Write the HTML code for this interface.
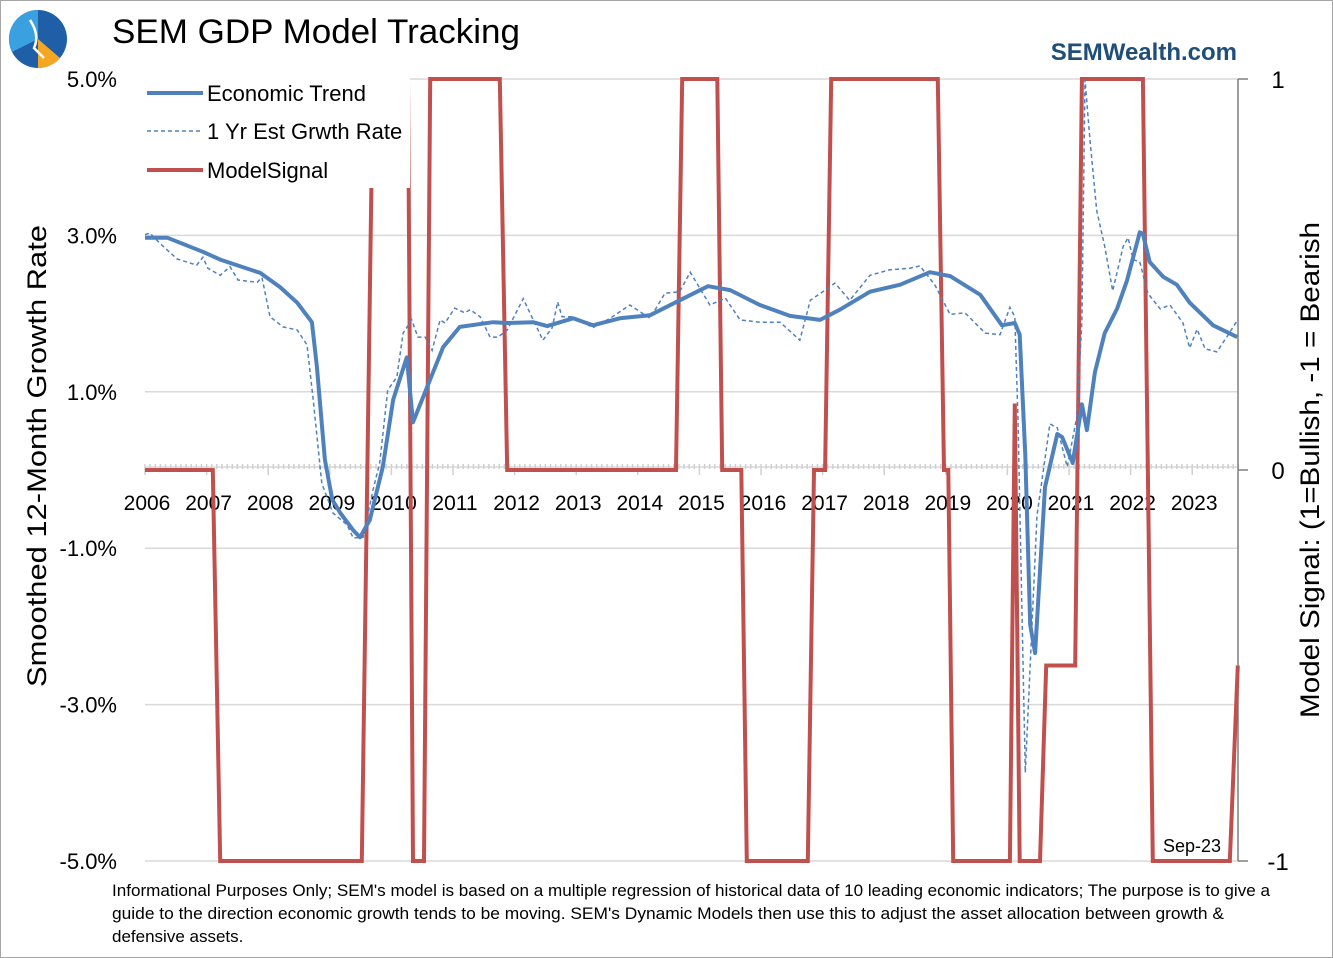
<!DOCTYPE html>
<html><head><meta charset="utf-8"><style>
body{margin:0;background:#fff;}
svg{display:block;font-family:"Liberation Sans",sans-serif;}
</style></head><body>
<svg id="chart" width="1333" height="958" viewBox="0 0 1333 958" xmlns="http://www.w3.org/2000/svg">
<rect x="0.5" y="0.5" width="1332" height="957" fill="#fff" stroke="#a6a6a6"/>
<g>
<circle cx="38" cy="39" r="29" fill="#1f5fa8"/>
<path d="M38 39 L38 10 A29 29 0 0 0 12 52 Z" fill="#3aa0e0"/>
<path d="M38 39 L60 58 A29 29 0 0 1 38 68 Z" fill="#f5a623"/>
<path d="M30 20 Q40 35 34 48 L44 58" stroke="#fff" stroke-width="2.5" fill="none"/>
</g>
<text x="112" y="43" font-size="34" textLength="408" lengthAdjust="spacingAndGlyphs" fill="#000">SEM GDP Model Tracking</text>
<text x="1237" y="60" font-size="24" font-weight="bold" fill="#1f4e79" text-anchor="end">SEMWealth.com</text>
<g id="grid"></g>
<g id="axes"></g>
<g id="series"></g>
<g id="legend"></g>
<text transform="translate(46,456) rotate(-90)" font-size="27" text-anchor="middle" textLength="462" lengthAdjust="spacingAndGlyphs">Smoothed 12-Month Growth Rate</text>
<text transform="translate(1319,470) rotate(-90)" font-size="27" text-anchor="middle" textLength="496" lengthAdjust="spacingAndGlyphs">Model Signal: (1=Bullish, -1 = Bearish</text>
<text x="1192" y="852" font-size="18" text-anchor="middle">Sep-23</text>
<g font-size="17" fill="#000">
<text x="112" y="896" textLength="1158" lengthAdjust="spacingAndGlyphs">Informational Purposes Only; SEM's model is based on a multiple regression of historical data of 10 leading economic indicators; The purpose is to give a</text>
<text x="112" y="919" textLength="1112" lengthAdjust="spacingAndGlyphs">guide to the direction economic growth tends to be moving. SEM's Dynamic Models then use this to adjust the asset allocation between growth &amp;</text>
<text x="112" y="942">defensive assets.</text>
</g>
</svg>
<script>
const yearLabels=["2006","2007","2008","2009","2010","2011","2012","2013","2014","2015","2016","2017","2018","2019","2020","2021","2022","2023"];
const leftTicks=[5,3,1,-1,-3,-5];
const leftTickLabels=["5.0%","3.0%","1.0%","-1.0%","-3.0%","-5.0%"];
const rightTicks=[1,0,-1];
const trendDates=[2006.0,2006.36,2006.94,2007.22,2007.87,2008.19,2008.47,2008.71,2008.79,2008.92,2009.04,2009.17,2009.38,2009.49,2009.65,2009.86,2010.03,2010.25,2010.35,2010.58,2010.84,2011.11,2011.65,2011.88,2012.30,2012.53,2012.95,2013.27,2013.71,2014.20,2014.68,2015.14,2015.50,2015.98,2016.47,2016.96,2017.28,2017.77,2018.26,2018.74,2019.07,2019.56,2019.91,2020.12,2020.20,2020.29,2020.37,2020.45,2020.61,2020.81,2020.89,2021.06,2021.21,2021.29,2021.42,2021.58,2021.78,2021.94,2022.15,2022.20,2022.31,2022.53,2022.75,2022.96,2023.34,2023.73];
const trendValues=[2.97,2.97,2.79,2.69,2.52,2.34,2.14,1.89,1.32,0.13,-0.38,-0.55,-0.77,-0.86,-0.64,0.04,0.90,1.44,0.61,1.06,1.57,1.83,1.89,1.88,1.89,1.84,1.94,1.85,1.94,1.98,2.17,2.35,2.30,2.11,1.97,1.92,2.05,2.28,2.37,2.53,2.48,2.24,1.85,1.88,1.73,0.19,-1.98,-2.34,-0.22,0.46,0.42,0.09,0.84,0.51,1.25,1.75,2.06,2.42,3.04,3.02,2.66,2.47,2.37,2.14,1.85,1.70];
const estDates=[2006.0,2006.08,2006.24,2006.52,2006.84,2006.94,2007.02,2007.22,2007.38,2007.51,2007.82,2007.90,2008.03,2008.24,2008.47,2008.63,2008.73,2008.87,2009.05,2009.28,2009.38,2009.54,2009.70,2009.81,2009.94,2010.09,2010.19,2010.33,2010.43,2010.55,2010.66,2010.79,2010.87,2011.03,2011.19,2011.28,2011.44,2011.60,2011.73,2011.88,2012.14,2012.46,2012.61,2012.70,2012.77,2012.95,2013.27,2013.55,2013.87,2014.20,2014.44,2014.68,2014.85,2015.17,2015.42,2015.66,2015.98,2016.31,2016.63,2016.80,2017.04,2017.20,2017.44,2017.77,2018.09,2018.42,2018.58,2018.82,2019.07,2019.31,2019.64,2019.88,2020.04,2020.12,2020.17,2020.29,2020.48,2020.69,2020.81,2020.97,2021.13,2021.21,2021.26,2021.34,2021.45,2021.58,2021.71,2021.88,2021.96,2022.04,2022.15,2022.28,2022.48,2022.64,2022.85,2022.96,2023.08,2023.21,2023.40,2023.56,2023.73];
const estValues=[3.01,3.03,2.90,2.70,2.62,2.72,2.58,2.49,2.60,2.43,2.40,2.46,1.96,1.83,1.79,1.60,0.90,-0.17,-0.55,-0.70,-0.87,-0.86,-0.26,0.09,1.02,1.19,1.75,1.92,1.70,1.70,1.53,1.92,1.88,2.07,2.01,2.05,1.96,1.70,1.70,1.79,2.19,1.66,1.82,2.15,1.96,1.96,1.82,1.94,2.11,1.94,2.26,2.28,2.53,2.11,2.20,1.92,1.89,1.89,1.66,2.17,2.30,2.39,2.17,2.49,2.56,2.58,2.61,2.37,1.99,2.01,1.75,1.73,2.08,1.96,0.69,-3.87,-0.58,0.59,0.54,0.04,0.69,1.91,4.99,4.23,3.32,2.86,2.29,2.86,2.97,2.69,2.66,2.26,2.06,2.11,1.88,1.56,1.80,1.55,1.51,1.70,1.91];
const signalDates=[2006.0,2007.10,2007.22,2009.52,2009.70,2010.27,2010.35,2010.53,2010.63,2011.76,2011.88,2014.62,2014.72,2015.29,2015.37,2015.68,2015.77,2016.76,2016.86,2017.04,2017.14,2018.87,2018.97,2019.04,2019.12,2020.04,2020.12,2020.20,2020.53,2020.63,2021.10,2021.21,2022.20,2022.36,2023.61,2023.74];
const signalValues=[0,0,-1,-1,1,1,-1,-1,1,1,0,0,1,1,0,0,-1,-1,0,0,1,1,0,0,-1,-1,0.17,-1,-1,-0.5,-0.5,1,1,-1,-1,-0.5];

const NS="http://www.w3.org/2000/svg";
const PL=145,PR=1238,PT=79,PB=861;
const xS=y=>PL+(y-2006)*61.6;
const yL=v=>470-(v)*78.2;
const yR=v=>470-v*391;
function mk(tag,attrs,parent){const e=document.createElementNS(NS,tag);for(const k in attrs)e.setAttribute(k,attrs[k]);parent.appendChild(e);return e;}
const grid=document.getElementById('grid'),axes=document.getElementById('axes'),series=document.getElementById('series'),legend=document.getElementById('legend');
leftTicks.forEach((v,i)=>{
  const l=mk('line',{x1:PL,x2:PR,y1:yL(v),y2:yL(v),stroke:'#d9d9d9','stroke-width':1.5},grid);
  
  
  const t=mk('text',{x:117,y:yL(v)+8,'font-size':22,'text-anchor':'end'},axes);
  t.textContent=leftTickLabels[i];
  
  
});
const xa=mk('line',{x1:PL,x2:PR,y1:467,y2:467,stroke:'#d9d9d9','stroke-width':1.5},axes);


for(let m=0;m<=213;m++){
  const x=xS(2006+m/12);
  const big=m%12===0;
  mk('line',{x1:x,x2:x,y1:464,y2:big?475:469,stroke:'#d0d0d0','stroke-width':1.5},axes);
}
yearLabels.forEach((lab,i)=>{
  const t=mk('text',{x:xS(2006+i)+2,y:510,'font-size':21,'text-anchor':'middle'},axes);
  t.textContent=lab;
  
  
});
const ra=mk('line',{x1:PR,x2:PR,y1:PT,y2:PB,stroke:'#7f7f7f','stroke-width':1.5},axes);


rightTicks.forEach(v=>{
  mk('line',{x1:PR,x2:PR+10,y1:yR(v),y2:yR(v),stroke:'#7f7f7f','stroke-width':1.5},axes);
  const t=mk('text',{x:PR+40,y:yR(v)+9,'font-size':24,'text-anchor':'middle'},axes);
  t.textContent=String(v);
  
  
});
function pts(ds,vs,f){return ds.map((d,i)=>xS(d).toFixed(1)+','+f(vs[i]).toFixed(1)).join(' ');}
const sig=mk('polyline',{points:pts(signalDates,signalValues,yR),fill:'none',stroke:'#c0504d','stroke-width':4,'stroke-linejoin':'miter'},series);


const est=mk('polyline',{points:pts(estDates,estValues,yL),fill:'none',stroke:'#4f81bd','stroke-width':1.5,'stroke-dasharray':'4,3'},series);


const tr=mk('polyline',{points:pts(trendDates,trendValues,yL),fill:'none',stroke:'#4f81bd','stroke-width':4,'stroke-linejoin':'round'},series);


const lb=mk('rect',{x:140,y:68,width:270,height:120,fill:'#fff'},legend);


const leg=[["Economic Trend",93,'#4f81bd',4,''],["1 Yr Est Grwth Rate",131,'#4f81bd',1.5,'4,3'],["ModelSignal",170,'#c0504d',4,'']];
leg.forEach(e=>{
  const g=mk('g',{},legend);
  
  
  const a={x1:147,x2:203,y1:e[1],y2:e[1],stroke:e[2],'stroke-width':e[3]};
  if(e[4])a['stroke-dasharray']=e[4];
  mk('line',a,g);
  const t=mk('text',{x:207,y:e[1]+8,'font-size':22},g);
  t.textContent=e[0];
});
</script>
</body></html>
